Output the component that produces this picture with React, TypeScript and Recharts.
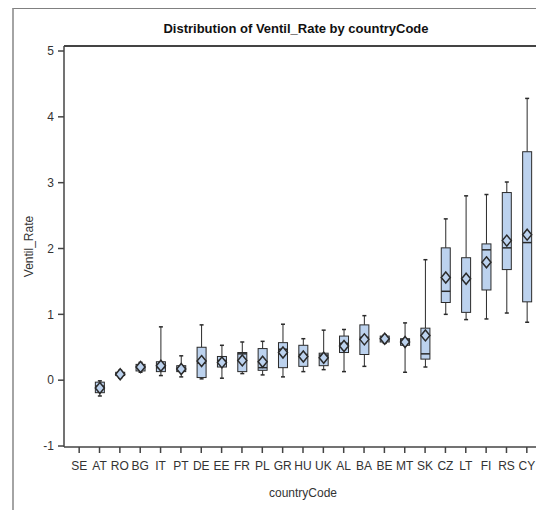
import React from 'react'
import { ComposedChart, Bar, XAxis, YAxis } from 'recharts'

const codes = ['SE', 'AT', 'RO', 'BG', 'IT', 'PT', 'DE', 'EE', 'FR', 'PL', 'GR', 'HU', 'UK', 'AL', 'BA', 'BE', 'MT', 'SK', 'CZ', 'LT', 'FI', 'RS', 'CY']
const mins = [null, -0.24, 0.03, 0.12, 0.07, 0.05, 0.02, 0.03, 0.1, 0.08, 0.05, 0.13, 0.16, 0.13, 0.21, 0.56, 0.12, 0.2, 1.0, 0.92, 0.93, 1.02, 0.88]
const q1s = [null, -0.19, 0.07, 0.14, 0.13, 0.13, 0.04, 0.2, 0.13, 0.15, 0.19, 0.21, 0.22, 0.42, 0.39, 0.58, 0.53, 0.32, 1.18, 1.03, 1.37, 1.68, 1.19]
const medians = [null, -0.09, 0.09, 0.19, 0.19, 0.18, 0.26, 0.3, 0.4, 0.19, 0.47, 0.39, 0.38, 0.56, 0.65, 0.62, 0.61, 0.4, 1.35, 1.53, 1.98, 2.01, 2.09]
const q3s = [null, -0.03, 0.12, 0.24, 0.28, 0.22, 0.5, 0.36, 0.42, 0.48, 0.57, 0.53, 0.41, 0.67, 0.84, 0.67, 0.63, 0.79, 2.01, 1.86, 2.07, 2.85, 3.47]
const maxs = [null, -0.01, 0.15, 0.27, 0.81, 0.37, 0.84, 0.53, 0.58, 0.59, 0.85, 0.63, 0.76, 0.77, 0.98, 0.69, 0.87, 1.83, 2.45, 2.8, 2.82, 3.01, 4.28]
const means = [null, -0.12, 0.09, 0.2, 0.22, 0.17, 0.29, 0.27, 0.3, 0.28, 0.42, 0.36, 0.34, 0.52, 0.62, 0.63, 0.58, 0.68, 1.56, 1.54, 1.79, 2.12, 2.21]
const yTicks = [-1, 0, 1, 2, 3, 4, 5]

const data = codes.map((code, i) => ({
  code,
  min: mins[i],
  q1: q1s[i],
  median: medians[i],
  q3: q3s[i],
  max: maxs[i],
  mean: means[i],
  range: mins[i] == null ? null : [mins[i], maxs[i]],
}))

const BOX_FILL = '#bcd2ee'
const INK = '#2a2a2a'
const narrow = "'Liberation Sans Narrow', 'Arial Narrow', 'Liberation Sans', Arial, sans-serif"
const sans = "'Liberation Sans', Arial, sans-serif"

// whisker + box + median + mean diamond, positioned inside the min..max bar
function BoxShape(props: any) {
  const { x, y, width, height, payload } = props
  if (payload == null || payload.min == null) return null
  const top = Math.min(y, y + height)
  const bottom = Math.max(y, y + height)
  const span = payload.max - payload.min
  const toY = (v: number) => (span === 0 ? top : top + ((payload.max - v) / span) * (bottom - top))
  const cx = x + width / 2
  const cap = 2
  const yq1 = toY(payload.q1)
  const yq3 = toY(payload.q3)
  const ymed = toY(payload.median)
  const ymean = toY(payload.mean)
  return (
    <g>
      <line x1={cx} x2={cx} y1={top} y2={yq3} stroke={INK} strokeWidth={1} />
      <line x1={cx} x2={cx} y1={yq1} y2={bottom} stroke={INK} strokeWidth={1} />
      <line x1={cx - cap} x2={cx + cap} y1={top} y2={top} stroke={INK} strokeWidth={1.5} />
      <line x1={cx - cap} x2={cx + cap} y1={bottom} y2={bottom} stroke={INK} strokeWidth={1.5} />
      <rect x={x} y={yq3} width={width} height={Math.max(yq1 - yq3, 1)} fill={BOX_FILL} stroke={INK} strokeWidth={1} />
      <line x1={x} x2={x + width} y1={ymed} y2={ymed} stroke={INK} strokeWidth={1.5} />
      <path
        d={`M${cx},${ymean - 5.5} L${cx + 4.5},${ymean} L${cx},${ymean + 5.5} L${cx - 4.5},${ymean} Z`}
        fill={BOX_FILL}
        stroke={INK}
        strokeWidth={1.5}
      />
    </g>
  )
}

export default function App() {
  return (
    <div style={{ position: 'relative', width: 536, height: 502 }}>
      <div
        style={{
          position: 'absolute',
          left: 4,
          top: 0,
          right: 0,
          bottom: 0,
          borderLeft: '2px solid #a4a4a4',
          borderTop: '1px solid #808080',
        }}
      />
      <div
        style={{
          position: 'absolute',
          left: 88,
          top: 13,
          width: 400,
          textAlign: 'center',
          fontFamily: narrow,
          fontWeight: 'bold',
          fontSize: 13,
          lineHeight: '16px',
          color: '#111',
        }}
      >
        Distribution of Ventil_Rate by countryCode
      </div>
      <div style={{ position: 'absolute', left: 0, top: 0 }}>
        <ComposedChart width={536} height={502} data={data} margin={{ top: 38, right: 2, bottom: 8, left: 0 }}>
          <XAxis
            dataKey="code"
            height={55}
            padding={{ left: 5, right: 5 }}
            stroke="#444"
            strokeWidth={1.5}
            tickSize={6}
            tickMargin={8}
            tick={{ fill: '#333', fontSize: 12, fontFamily: narrow }}
            interval={0}
            label={{ value: 'countryCode', position: 'insideBottom', offset: 5, fill: '#333', fontSize: 12, fontFamily: sans }}
          />
          <YAxis
            type="number"
            domain={[-1.015, 5.076]}
            ticks={yTicks}
            allowDataOverflow
            width={56}
            stroke="#444"
            strokeWidth={1.5}
            tickSize={6}
            tickMargin={4}
            tick={{ fill: '#333', fontSize: 12, fontFamily: narrow }}
            label={{ value: 'Ventil_Rate', angle: -90, position: 'center', dx: -7, fill: '#333', fontSize: 12, fontFamily: sans }}
          />
          <Bar dataKey="range" barSize={9} shape={<BoxShape />} isAnimationActive={false} />
        </ComposedChart>
      </div>
      {/* top and right edges of the plot frame */}
      <div
        style={{
          position: 'absolute',
          left: 56,
          top: 37,
          width: 478,
          height: 402,
          boxSizing: 'border-box',
          borderTop: '2px solid #444',
          borderRight: '2px solid #444',
          pointerEvents: 'none',
        }}
      />
    </div>
  )
}
